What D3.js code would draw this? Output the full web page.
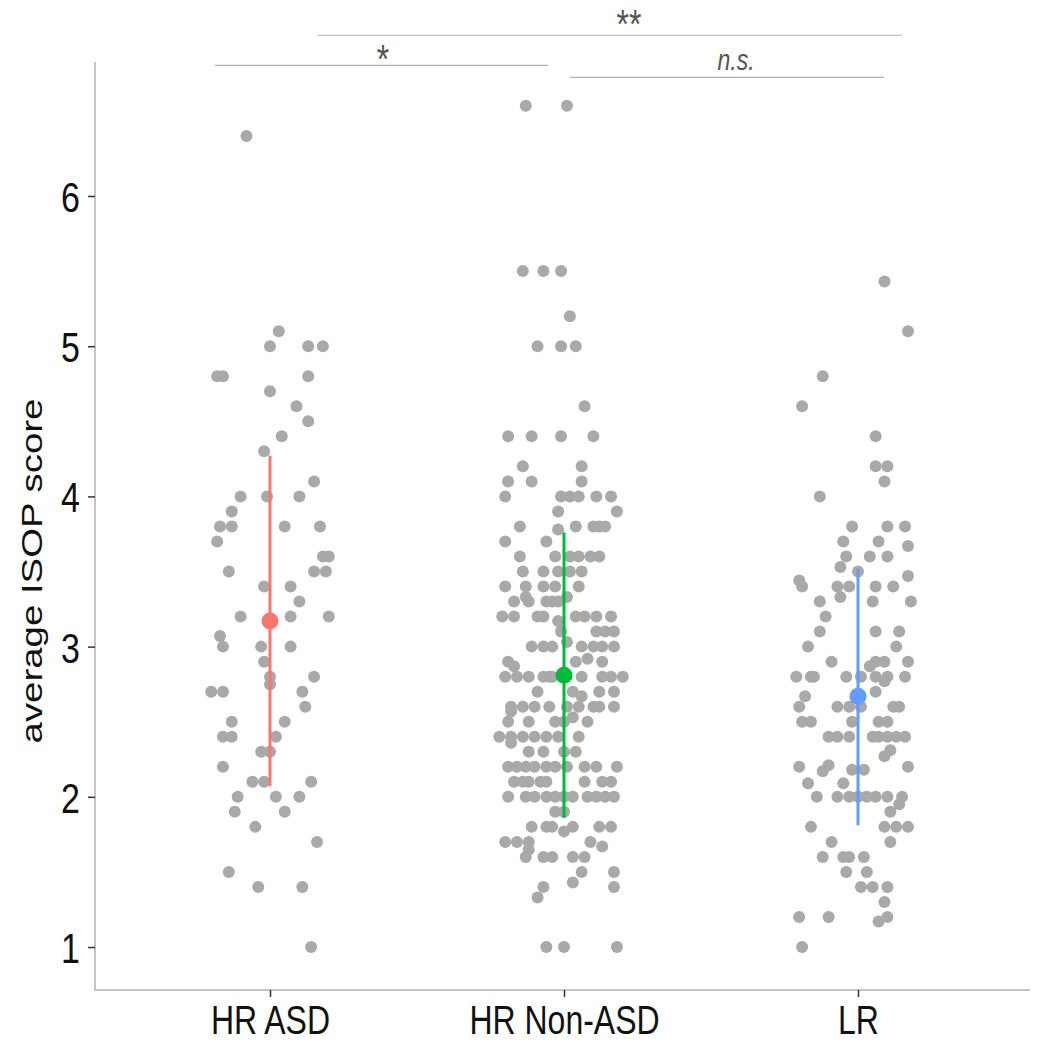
<!DOCTYPE html>
<html>
<head>
<meta charset="utf-8">
<script src="https://cdn.jsdelivr.net/npm/d3@7"></script>
<style>
html,body{margin:0;padding:0;background:#fff;}
svg{display:block;font-family:"Liberation Sans",Arial,Helvetica,sans-serif;}
</style>
</head>
<body>
<svg id="chart" width="1042" height="1050"></svg>
<script>
// ---- data ----
const categories = ["HR ASD", "HR Non-ASD", "LR"];
const yTicks = [1, 2, 3, 4, 5, 6];
const yTitle = "average ISOP score";
// group means and error-bar bounds
const means = [3.17, 2.81, 2.67];
const barLow = [2.07, 1.86, 1.81];
const barHigh = [4.27, 3.76, 3.52];
// individual points: [score, horizontal jitter in hundredths of a category step]
const hrAsdPoints = [[6.4,-8],[5.1,3],[5.0,0],[5.0,13],[5.0,18],[4.8,-18],[4.8,-16],[4.8,13],[4.7,0],[4.6,9],[4.5,13],[4.4,4],[4.3,-2],[4.1,15],[4.0,-10],[4.0,-1],[4.0,10],[3.9,-13],[3.8,-17],[3.8,-13],[3.8,5],[3.8,17],[3.7,-18],[3.6,18],[3.6,20],[3.5,-14],[3.5,15],[3.5,19],[3.4,-2],[3.4,7],[3.3,10],[3.2,-10],[3.2,7],[3.2,20],[3.07,-17],[3.0,-16],[3.0,-3],[3.0,7],[2.9,-2],[2.8,0],[2.8,15],[2.75,0],[2.7,-20],[2.7,-16],[2.7,11],[2.6,12],[2.5,-13],[2.5,5],[2.4,-16],[2.4,-13],[2.4,2],[2.3,-3],[2.3,0],[2.2,-16],[2.1,-6],[2.1,-2],[2.1,14],[2.0,-11],[2.0,2],[2.0,10],[1.9,-12],[1.9,5],[1.8,-5],[1.7,16],[1.5,-14],[1.4,-4],[1.4,11],[1.0,14]];
const hrNonAsdPoints = [[6.6,-13],[6.6,1],[5.5,-14],[5.5,-7],[5.5,-1],[5.2,2],[5.0,-9],[5.0,-1],[5.0,4],[4.6,7],[4.4,-19],[4.4,-11],[4.4,-1],[4.4,10],[4.2,-14],[4.2,6],[4.1,-19],[4.1,-11],[4.1,6],[4.0,-20],[4.0,-1],[4.0,2],[4.0,5],[4.0,11],[4.0,16],[3.9,-2],[3.9,18],[3.8,-15],[3.8,4],[3.8,10],[3.8,12],[3.8,14],[3.78,-2],[3.7,-20],[3.7,-6],[3.6,-15],[3.6,-3],[3.6,2],[3.6,5],[3.6,9],[3.6,12],[3.5,-14],[3.5,-7],[3.5,-2],[3.5,2],[3.5,6],[3.4,-20],[3.4,-13],[3.4,-7],[3.4,-3],[3.4,5],[3.33,-13],[3.33,1],[3.3,-17],[3.3,-12],[3.3,-6],[3.3,-4],[3.3,-2],[3.2,-21],[3.2,-17],[3.2,-9],[3.2,-7],[3.2,4],[3.2,7],[3.2,11],[3.2,16],[3.17,-2],[3.1,-1],[3.1,11],[3.1,14],[3.1,17],[3.03,1],[3.0,-11],[3.0,-7],[3.0,-4],[3.0,6],[3.0,10],[3.0,13],[3.0,17],[2.92,8],[2.9,-19],[2.9,4],[2.9,13],[2.87,-17],[2.8,-20],[2.8,-16],[2.8,-12],[2.8,-7],[2.8,-5],[2.8,-4],[2.8,6],[2.8,13],[2.8,16],[2.8,20],[2.7,-9],[2.7,3],[2.7,12],[2.7,17],[2.67,6],[2.6,-18],[2.6,-14],[2.6,-10],[2.6,-5],[2.6,1],[2.6,5],[2.6,10],[2.6,12],[2.6,17],[2.57,-18],[2.53,3],[2.5,-19],[2.5,-12],[2.5,-3],[2.5,0],[2.5,8],[2.4,-22],[2.4,-18],[2.4,-14],[2.4,-10],[2.4,-6],[2.4,-2],[2.4,5],[2.36,-18],[2.3,-12],[2.3,-7],[2.3,0],[2.3,4],[2.2,-19],[2.2,-16],[2.2,-13],[2.2,-10],[2.2,-6],[2.2,-3],[2.2,1],[2.2,7],[2.2,11],[2.2,18],[2.1,-17],[2.1,-14],[2.1,-12],[2.1,-8],[2.1,-6],[2.1,7],[2.1,13],[2.1,16],[2.0,-19],[2.0,-13],[2.0,-10],[2.0,-6],[2.0,-3],[2.0,0],[2.0,3],[2.0,8],[2.0,11],[2.0,14],[2.0,17],[1.9,-3],[1.9,0],[1.8,-11],[1.8,-6],[1.8,-4],[1.8,3],[1.8,12],[1.8,16],[1.77,0],[1.7,-20],[1.7,-16],[1.7,-12],[1.7,9],[1.67,13],[1.65,-12],[1.6,-13],[1.6,-7],[1.6,-4],[1.6,3],[1.6,7],[1.5,6],[1.5,17],[1.43,3],[1.4,-7],[1.4,17],[1.33,-9],[1.0,-6],[1.0,0],[1.0,18]];
const lrPoints = [[5.43,9],[5.1,17],[4.8,-12],[4.6,-19],[4.4,6],[4.2,6],[4.2,10],[4.1,9],[4.0,-13],[3.8,-2],[3.8,10],[3.8,16],[3.7,-5],[3.7,7],[3.67,17],[3.6,-4],[3.6,4],[3.6,10],[3.53,-6],[3.5,0],[3.47,17],[3.44,-20],[3.4,-19],[3.4,-7],[3.4,-3],[3.4,6],[3.4,12],[3.33,-6],[3.3,-13],[3.3,5],[3.3,18],[3.2,-11],[3.1,-13],[3.1,6],[3.1,14],[3.0,-17],[3.0,13],[2.9,-9],[2.9,6],[2.9,9],[2.9,17],[2.87,4],[2.8,-21],[2.8,-16],[2.8,-15],[2.8,-4],[2.8,1],[2.8,6],[2.8,10],[2.8,16],[2.77,9],[2.7,6],[2.67,-18],[2.6,-20],[2.6,-7],[2.6,-3],[2.6,1],[2.6,12],[2.6,14],[2.5,-19],[2.5,-16],[2.5,-2],[2.5,7],[2.5,10],[2.4,-10],[2.4,-7],[2.4,-3],[2.4,5],[2.4,7],[2.4,10],[2.4,13],[2.4,16],[2.31,11],[2.27,9],[2.21,-10],[2.2,-20],[2.2,17],[2.18,-2],[2.18,2],[2.17,-12],[2.09,-17],[2.09,-5],[2.0,-14],[2.0,-7],[2.0,-3],[2.0,0],[2.0,3],[2.0,6],[2.0,10],[2.0,15],[1.95,14],[1.9,11],[1.8,-16],[1.8,9],[1.8,13],[1.8,17],[1.7,-9],[1.7,11],[1.6,-12],[1.6,-5],[1.6,-3],[1.6,2],[1.5,-4],[1.5,3],[1.4,1],[1.4,5],[1.4,10],[1.3,9],[1.2,-20],[1.2,-10],[1.2,10],[1.17,7],[1.0,-19]];
const groupPoints = [hrAsdPoints, hrNonAsdPoints, lrPoints];
const groupColors = ["#F8766D", "#00BA38", "#619CFF"];
// significance brackets: from/to in category units, height in score units
const sigLabels = ["**", "*", "n.s."];
const sigFrom = [0.163, -0.187, 1.020];
const sigTo = [2.150, 0.946, 2.088];
const sigLevel = [7.07, 6.87, 6.79];

// ---- layout ----
const svg = d3.select("#chart");
const stretch = 1.26;
const plotLeft = 95, plotBottom = 990, plotTop = 62, plotRight = 1030;
const y = d3.scaleLinear().domain([0.714, 6.892]).range([plotBottom, plotTop]);
const x = d3.scaleLinear().domain([0, 2]).range([270, 858]);

// axes lines
svg.append("line").attr("x1", plotLeft).attr("x2", plotLeft).attr("y1", plotTop).attr("y2", plotBottom + 1)
  .attr("stroke", "#c4c4c4").attr("stroke-width", 2);
svg.append("line").attr("x1", plotLeft - 1).attr("x2", plotRight).attr("y1", plotBottom).attr("y2", plotBottom)
  .attr("stroke", "#c4c4c4").attr("stroke-width", 2);

// y axis ticks + labels
const yAxisG = svg.append("g").attr("transform", `translate(${plotLeft},0)`)
  .call(d3.axisLeft(y).tickValues(yTicks).tickSize(7).tickPadding(8).tickFormat(d3.format("d")));
yAxisG.select(".domain").remove();
yAxisG.selectAll(".tick line").attr("stroke", "#333").attr("stroke-width", 1.5);
yAxisG.selectAll(".tick text").attr("font-size", 34).attr("fill", "#111")
  .attr("font-family", "Liberation Sans, Arial, sans-serif")
  .attr("transform", `scale(1,${stretch})`).attr("dy", "0.36em");

// x axis ticks + labels
const xAxisG = svg.append("g").attr("transform", `translate(0,${plotBottom})`)
  .call(d3.axisBottom(x).tickValues([0, 1, 2]).tickSize(7).tickFormat(i => categories[i]));
xAxisG.select(".domain").remove();
xAxisG.selectAll(".tick line").attr("stroke", "#333").attr("stroke-width", 1.5);
xAxisG.selectAll(".tick text").attr("font-size", 32).attr("fill", "#111")
  .attr("font-family", "Liberation Sans, Arial, sans-serif")
  .attr("y", 0).attr("dy", 0)
  .attr("transform", `translate(0,44) scale(1,${stretch})`);

// y title
svg.append("text").text(yTitle)
  .attr("transform", `translate(42,571) scale(1,1.28) rotate(-90)`)
  .attr("text-anchor", "middle").attr("font-size", 30).attr("fill", "#111");

// points
groupPoints.forEach((pts, gi) => {
  svg.append("g").selectAll("circle").data(pts).join("circle")
    .attr("cx", d => x(gi + d[1] / 100))
    .attr("cy", d => y(d[0]))
    .attr("r", 6)
    .attr("fill", "#a9a9a9");
});

// error bars + means
categories.forEach((c, gi) => {
  svg.append("line")
    .attr("x1", x(gi)).attr("x2", x(gi))
    .attr("y1", y(barLow[gi])).attr("y2", y(barHigh[gi]))
    .attr("stroke", groupColors[gi]).attr("stroke-width", 3);
  svg.append("circle")
    .attr("cx", x(gi)).attr("cy", y(means[gi])).attr("r", 8.5)
    .attr("fill", groupColors[gi]);
});

// significance brackets
sigLabels.forEach((lab, i) => {
  svg.append("line")
    .attr("x1", x(sigFrom[i])).attr("x2", x(sigTo[i]))
    .attr("y1", y(sigLevel[i])).attr("y2", y(sigLevel[i]))
    .attr("stroke", "#b0b0b0").attr("stroke-width", 1.2);
});
const sigTextX = [629, 383, 736];
const sigTextY = [38, 73, 70];
sigLabels.forEach((lab, i) => {
  const isNs = lab === "n.s.";
  svg.append("text").text(lab)
    .attr("transform", `translate(${sigTextX[i]},${sigTextY[i]}) scale(1,${stretch})`)
    .attr("text-anchor", "middle")
    .attr("font-size", isNs ? 23 : 32)
    .attr("font-style", isNs ? "italic" : "normal")
    .attr("fill", "#555");
});
</script>
</body>
</html>
